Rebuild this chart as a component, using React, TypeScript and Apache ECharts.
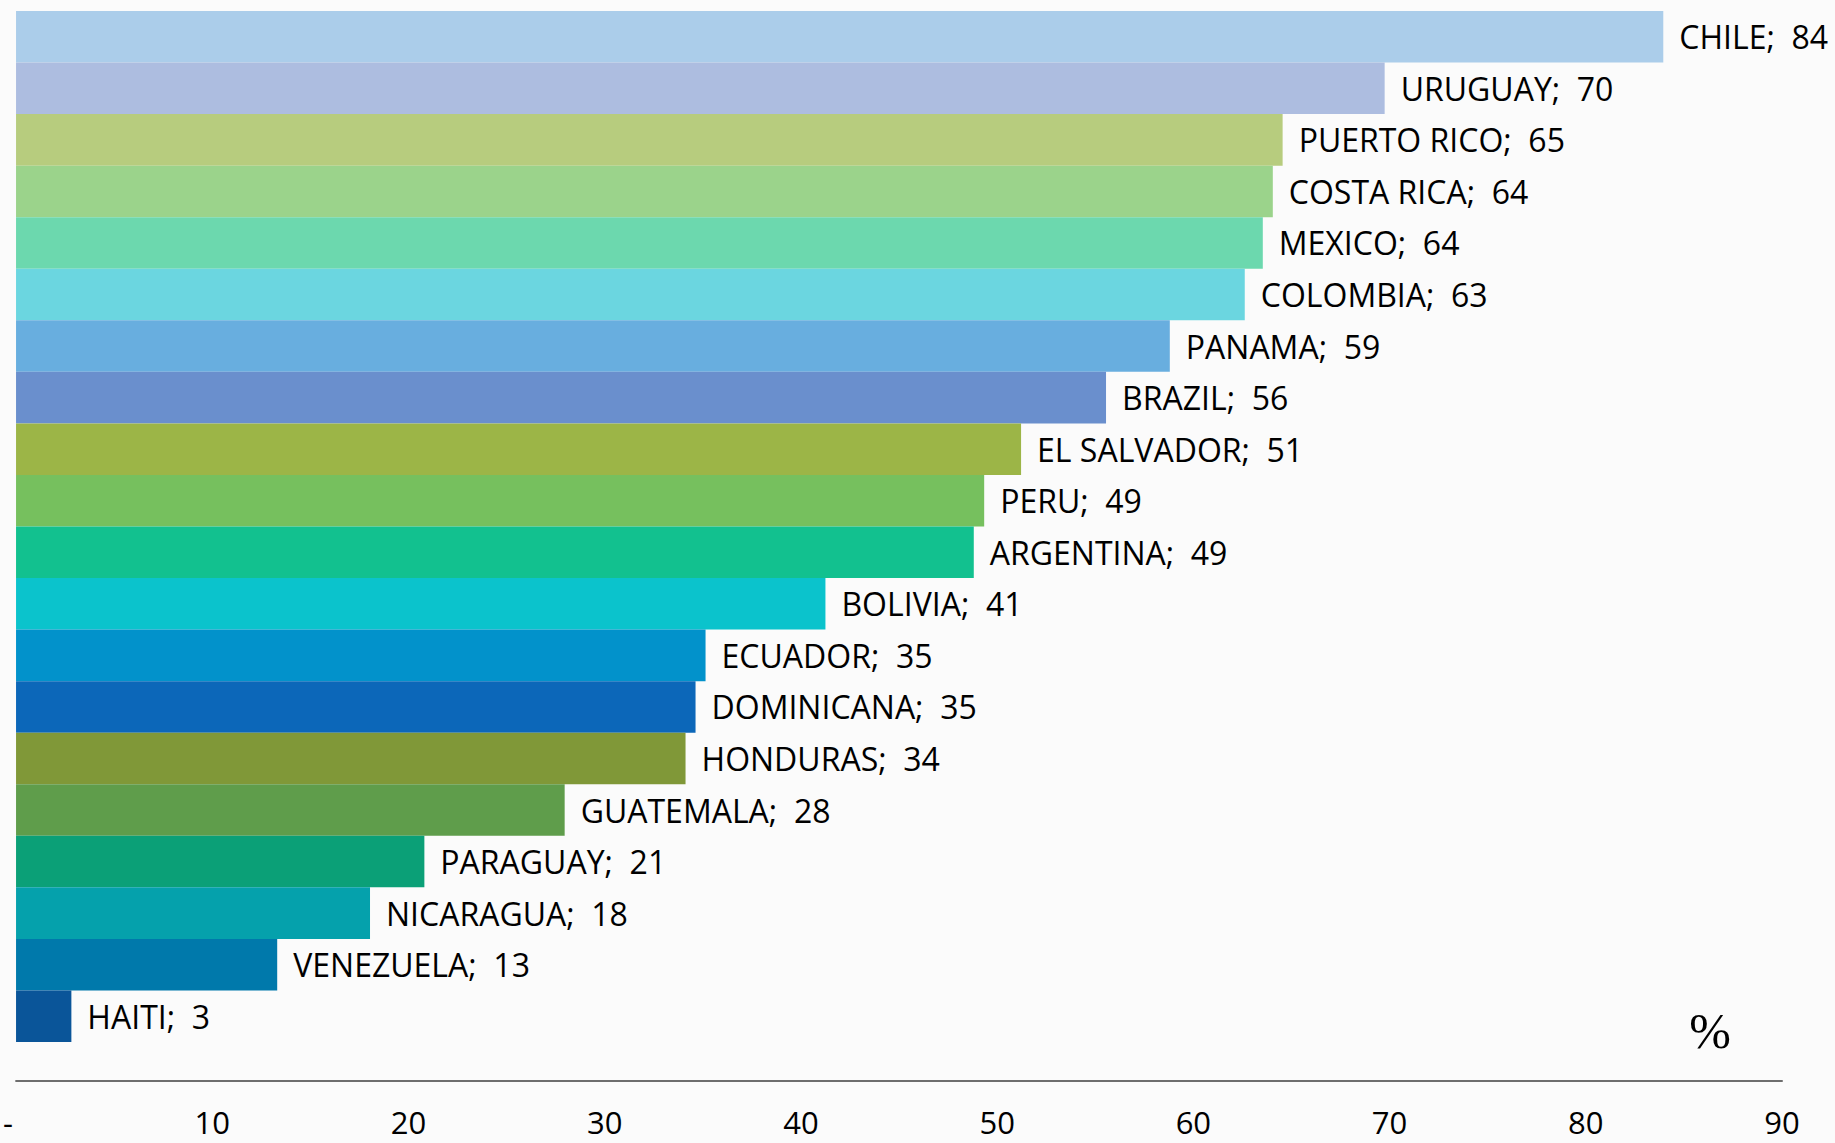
import React, { useEffect, useRef } from "react";
import * as echarts from "echarts";

const countries: string[] = [
  "CHILE", "URUGUAY", "PUERTO RICO", "COSTA RICA", "MEXICO", "COLOMBIA", "PANAMA",
  "BRAZIL", "EL SALVADOR", "PERU", "ARGENTINA", "BOLIVIA", "ECUADOR", "DOMINICANA",
  "HONDURAS", "GUATEMALA", "PARAGUAY", "NICARAGUA", "VENEZUELA", "HAITI",
];

const values: number[] = [
  83.95, 69.75, 64.55, 64.05, 63.54, 62.62, 58.8,
  55.55, 51.22, 49.34, 48.81, 41.25, 35.14, 34.63,
  34.12, 27.96, 20.81, 18.04, 13.31, 2.82,
];

const barColors: string[] = [
  "#ABCDEA", "#ADBDE0", "#B7CC7E", "#9BD38B", "#6CD8AE", "#6BD6E0", "#68AEDF",
  "#6A8FCD", "#9CB547", "#76C05E", "#12C18F", "#0BC3CC", "#0292CB", "#0C67B9",
  "#809838", "#5F9D4B", "#0BA077", "#05A1AC", "#0079AB", "#0A5599",
];

const xTicks = { min: 0, max: 90, interval: 10 };
const unitLabel = "%";

const FONT = "'Open Sans', 'Noto Sans', sans-serif";

export default function App() {
  const ref = useRef<HTMLDivElement>(null);

  useEffect(() => {
    if (!ref.current) return;
    const chart = echarts.init(ref.current, null, { renderer: "svg" });
    chart.setOption({
      animation: false,
      backgroundColor: "#fbfbfb",
      grid: { left: 13.5, right: 53, top: 11, bottom: 101, containLabel: false },
      xAxis: {
        type: "value",
        min: xTicks.min,
        max: xTicks.max,
        interval: xTicks.interval,
        offset: 39,
        splitLine: { show: false },
        axisTick: { show: false },
        axisLine: { show: true, lineStyle: { color: "#6e6e6e", width: 2 } },
        axisLabel: {
          fontSize: 31,
          lineHeight: 26,
          fontFamily: FONT,
          color: "#000",
          margin: 28,
          formatter: (v: number) => (v === 0 ? "-  " : String(v)),
        },
      },
      yAxis: {
        type: "category",
        data: countries,
        inverse: true,
        axisLine: { show: false },
        axisTick: { show: false },
        axisLabel: { show: false },
        splitLine: { show: false },
      },
      series: [
        {
          type: "bar",
          barCategoryGap: "0%",
          data: values.map((v, i) => ({ value: v, itemStyle: { color: barColors[i] } })),
          label: {
            show: true,
            position: "right",
            distance: 16,
            fontSize: 32,
            fontFamily: FONT,
            color: "#000",
            formatter: (p: any) => `${p.name};  ${Math.round(p.value)}`,
          },
        },
      ],
      graphic: [
        {
          type: "text",
          x: 1710,
          y: 1031,
          style: {
            text: unitLabel,
            fontSize: 50,
            fontFamily: "'Liberation Serif', 'DejaVu Serif', serif",
            fill: "#000",
            textAlign: "center",
            textVerticalAlign: "middle",
          },
        },
      ],
    });
    return () => chart.dispose();
  }, []);

  return (
    <div
      ref={ref}
      style={{ position: "fixed", left: 0, top: 0, width: 1835, height: 1143 }}
    />
  );
}
